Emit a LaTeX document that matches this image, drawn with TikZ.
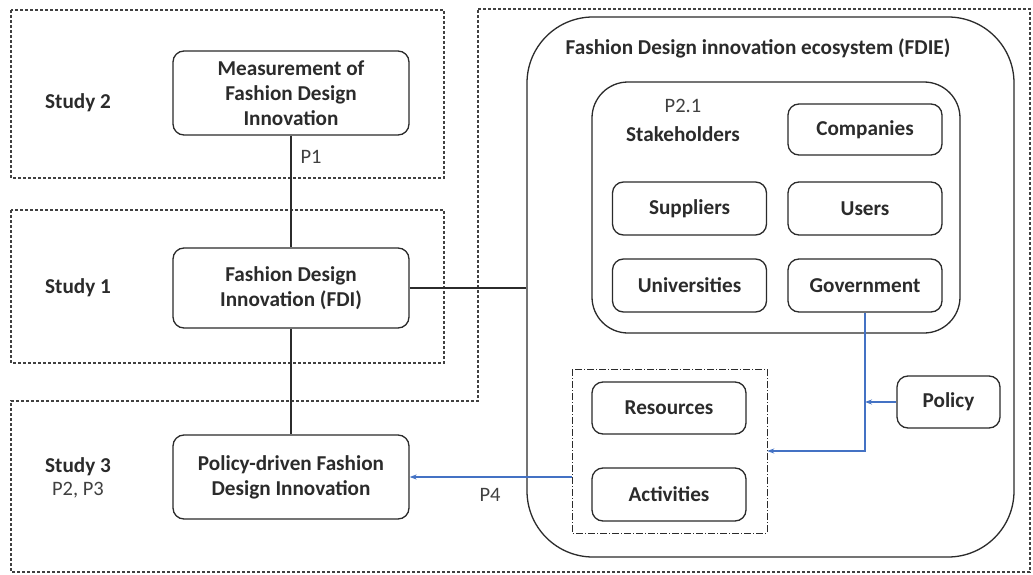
\documentclass[tikz,border=0pt]{standalone}
\usepackage{fontspec}
\setmainfont{Carlito}
\usetikzlibrary{arrows.meta}

\definecolor{inkgray}{HTML}{2B2B2B}
\definecolor{linkblue}{HTML}{4472C4}

\tikzset{
  studyframe/.style={draw=inkgray!90, line width=1.1pt, dash pattern=on 3pt off 2pt},
  groupframe/.style={draw=inkgray, line width=1pt, dash pattern=on 7pt off 2pt on 1pt off 2pt},
  box/.style={draw=inkgray, line width=1.3pt, rounded corners=11pt, align=center,
              font=\fontsize{21.2}{25}\selectfont\bfseries, text=inkgray, inner sep=0pt},
  bigbox/.style={draw=inkgray, line width=1.3pt, inner sep=0pt},
  lbl/.style={font=\fontsize{21.2}{25}\selectfont\bfseries, text=inkgray, inner sep=0pt},
  plbl/.style={font=\fontsize{20.5}{24}\selectfont, text=inkgray!90, inner sep=0pt},
  link/.style={draw=inkgray, line width=1.4pt},
  bluelink/.style={draw=linkblue, line width=1.8pt, -{Stealth[length=7pt,width=5pt]}},
}

\begin{document}
\begin{tikzpicture}[x=1pt,y=-1pt]
\useasboundingbox[fill=white] (0,0) rectangle (1033,575);

% study frames
\draw[studyframe] (11,10) rectangle (444,178);
\draw[studyframe] (11,210) rectangle (444,363);
\draw[studyframe] (478,9) -- (1030,9) -- (1030,572) -- (11,572) -- (11,401) -- (478,401) -- cycle;

% study labels
\node[lbl] (s2) at (78,103) {Study 2};
\node[lbl] (s1) at (78,288) {Study 1};
\node[lbl] (s3) at (78,467) {Study 3};
\node[plbl] (p23) at (78,490) {P2, P3};

% left column boxes
\node[box, minimum width=236pt, minimum height=84pt] (meas) at (291,93)
  {Measurement of\\Fashion Design\\Innovation};
\node[box, minimum width=236pt, minimum height=80pt] (fdi) at (291,288)
  {Fashion Design\\Innovation (FDI)};
\node[box, minimum width=236pt, minimum height=84pt] (pdfdi) at (291,477)
  {Policy-driven Fashion\\Design Innovation};

% ecosystem containers
\node[bigbox, rounded corners=66pt, minimum width=487pt, minimum height=540pt] (fdie) at (770.5,287) {};
\node[lbl] (fdietitle) at (758,48) {Fashion Design innovation ecosystem (FDIE)};
\node[bigbox, rounded corners=36pt, minimum width=368pt, minimum height=251pt] (stake) at (776,207.5) {};
\node[plbl] (p21) at (683,106) {P2.1};
\node[lbl] (stakelbl) at (683,134) {Stakeholders};

% stakeholders
\node[box, minimum width=154pt, minimum height=51pt] (comp) at (865,129.5) {Companies};
\node[box, minimum width=154pt, minimum height=53pt] (supp) at (689.5,208.5) {Suppliers};
\node[box, minimum width=154pt, minimum height=53pt] (users) at (865,208.5) {Users};
\node[box, minimum width=154pt, minimum height=53pt] (univ) at (689.5,285.5) {Universities};
\node[box, minimum width=154pt, minimum height=53pt] (gov) at (865,285.5) {Government};

% resources and activities group
\draw[groupframe] (572,369) rectangle (767,533);
\node[inner sep=0pt, minimum width=195pt, minimum height=164pt] (ra) at (669.5,451) {};
\node[box, minimum width=154pt, minimum height=52pt] (res) at (669,408) {Resources};
\node[box, minimum width=154pt, minimum height=53pt] (act) at (669,494.5) {Activities};

\node[box, minimum width=103pt, minimum height=52pt] (policy) at (948.5,402) {Policy};

% connectors
\draw[link] (meas.south) -- (fdi.north);
\draw[link] (fdi.south) -- (pdfdi.north);
\draw[link] (fdi.east) -- (fdie.west |- fdi.east);
\node[plbl] (p1) at (311,157) {P1};

\coordinate (bend) at (gov.south |- ra.east);
\draw[bluelink] (gov.south) -- (bend) -- (ra.east);
\draw[bluelink] (policy.west) -- (gov.south |- policy.west);
\draw[bluelink] (ra.west |- pdfdi.east) -- (pdfdi.east);
\node[plbl] (p4) at (490,495) {P4};
\end{tikzpicture}
\end{document}
